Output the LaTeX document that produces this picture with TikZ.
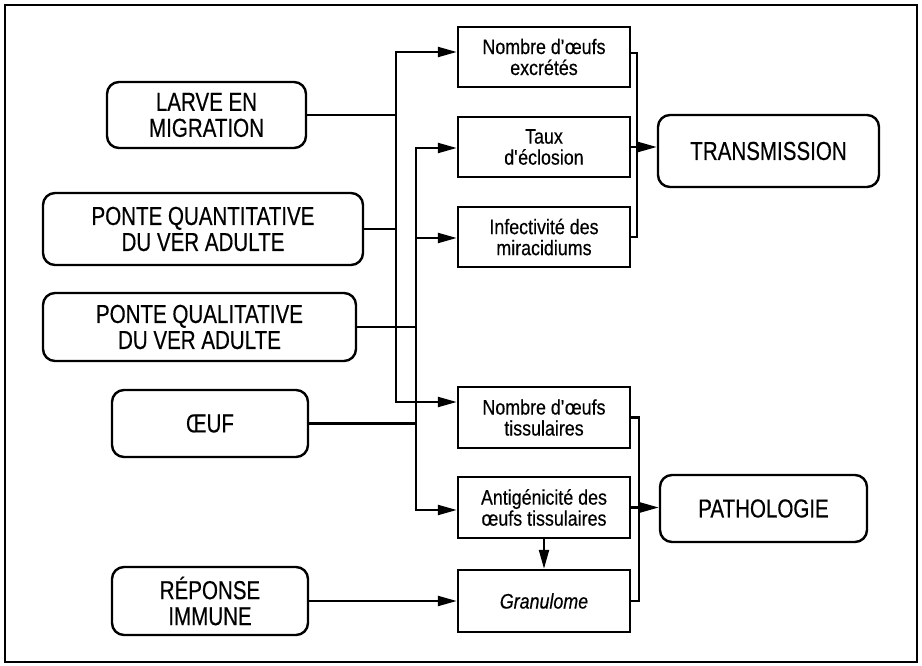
\documentclass[tikz,border=0pt]{standalone}
\usepackage{fontspec}
\setmainfont{Liberation Sans}[FakeStretch=0.79,FakeBold=0.4]
\newfontfamily\smallfam{Liberation Sans}[FakeStretch=0.85,FakeBold=0.4]
\usetikzlibrary{arrows.meta}
\newcommand{\bigf}{\fontsize{26}{26}\selectfont}
\newcommand{\smallf}{\smallfam\fontsize{21}{21}\selectfont}
\newcommand{\ap}{\textquotesingle}
\tikzset{
  src/.style={draw, line width=2.4pt, rounded corners=12pt, inner sep=0pt, align=center, font=\bigf},
  box/.style={draw, line width=2.4pt, inner sep=0pt, align=center, font=\smallf, minimum width=172pt, minimum height=60pt},
  conn/.style={line width=2.2pt},
  arr/.style={conn, -{Triangle[length=19pt,width=10pt]}},
  arrtwo/.style={conn, {Triangle[length=19pt,width=10pt]}-{Triangle[length=19pt,width=10pt]}},
}
\begin{document}
\begin{tikzpicture}[x=1pt,y=-1pt]
\useasboundingbox (0,0) rectangle (922,666);
\draw[line width=2.4pt] (5,5) rectangle (917,662);

% sources
\node[src, minimum width=199pt, minimum height=66pt] (larve) at (206.5,115) {LARVE EN\\MIGRATION};
\node[src, minimum width=320pt, minimum height=72pt] (pquant) at (203,229) {PONTE QUANTITATIVE\\DU VER ADULTE};
\node[src, minimum width=313pt, minimum height=68pt] (pqual) at (199.5,327) {PONTE QUALITATIVE\\DU VER ADULTE};
\node[src, minimum width=196pt, minimum height=67pt] (oeuf) at (210,423.5) {ŒUF};
\node[src, minimum width=196pt, minimum height=68pt] (reponse) at (210,601) {RÉPONSE\\IMMUNE};

% middle boxes
\node[box] (excretes) at (544,57) {Nombre d\ap œufs\\excrétés};
\node[box] (taux) at (544,147) {Taux\\d\ap éclosion};
\node[box] (infect) at (544,237) {Infectivité des\\miracidiums};
\node[box, minimum height=61pt] (ntiss) at (544,417.5) {Nombre d\ap œufs\\tissulaires};
\node[box, minimum height=61pt] (antig) at (544,507.5) {Antigénicité des\\œufs tissulaires};
\node[box, minimum height=62pt] (granulome) at (544,601) {\itshape Granulome};

% outcomes
\node[src, minimum width=221pt, minimum height=72pt] (transmission) at (768.5,151) {TRANSMISSION};
\node[src, minimum width=207pt, minimum height=67pt] (pathologie) at (763.5,508.5) {PATHOLOGIE};

% buses
\coordinate (b1top) at (396,52);
\coordinate (b1bot) at (396,402);
\coordinate (b2top) at (416,148);
\coordinate (b2mid) at (416,238);
\coordinate (b2bot) at (416,510);

\draw[conn] (larve.east) -- (larve.east -| b1top);
\draw[conn] (pquant.east) -- (pquant.east -| b1top);
\draw[arrtwo] (b1top -| excretes.west) -- (b1top) -- (b1bot) -- (b1bot -| ntiss.west);

\draw[conn] (pqual.east) -- (pqual.east -| b2top);
\draw[conn] (oeuf.east) -- (oeuf.east -| b2top);
\draw[arrtwo] (b2top -| taux.west) -- (b2top) -- (b2bot) -- (b2bot -| antig.west);
\draw[arr] (b2mid) -- (b2mid -| infect.west);

\draw[arr] (reponse.east) -- (reponse.east -| granulome.west);
\draw[arr] (antig.south) -- (granulome.north);

% right brackets
\coordinate (r1) at (637,53);
\draw[conn] (excretes.east |- r1) -- (r1) -- (r1 |- infect.east) -- (infect.east);
\draw[arr] (taux.east) -- (taux.east -| transmission.west);

\coordinate (r2) at (639,417.5);
\draw[conn] (ntiss.east) -- (r2) -- (r2 |- granulome.east) -- (granulome.east);
\draw[arr] (antig.east) -- (antig.east -| pathologie.west);
\end{tikzpicture}
\end{document}
